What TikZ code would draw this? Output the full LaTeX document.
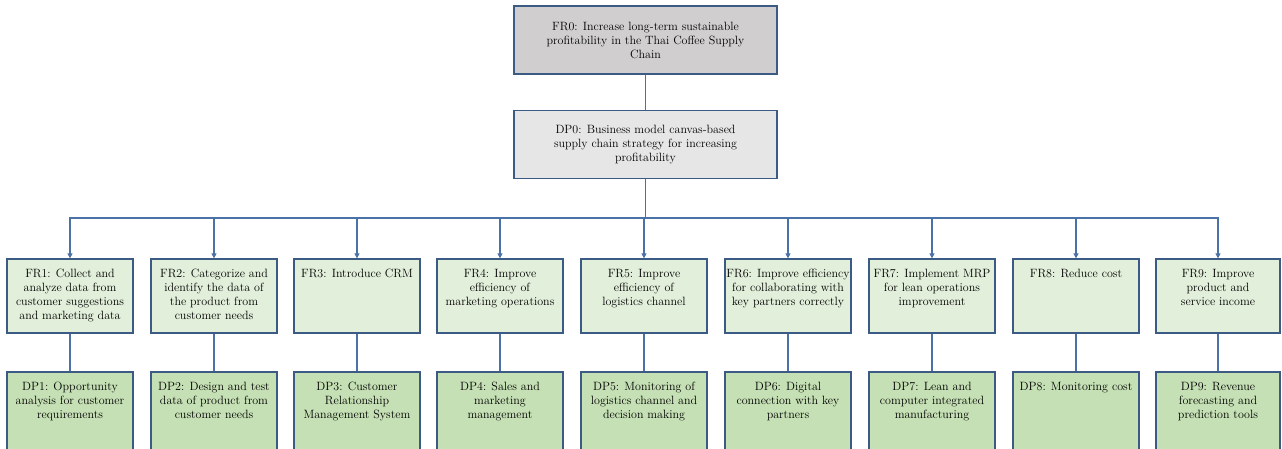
\documentclass[tikz,border=0pt]{standalone}
\usetikzlibrary{arrows.meta}
\definecolor{rootfill}{HTML}{D0CECE}
\definecolor{dpzfill}{HTML}{E7E6E6}
\definecolor{frfill}{HTML}{E2EFDA}
\definecolor{dpfill}{HTML}{C5E0B4}
\definecolor{edge}{HTML}{3B5A84}
\definecolor{wire}{HTML}{4A72A6}
% text set at the top of a fixed-size box
\newcommand{\toptext}[3]{\parbox[c][#2][t]{#1}{\centering\rule{0pt}{18pt}#3}}
\begin{document}
\begin{tikzpicture}[x=1pt,y=-1pt,
  font=\fontsize{12}{14}\selectfont,
  base/.style={draw=edge,line width=1.3pt,inner sep=0pt},
  headbox/.style={base,minimum width=263pt,minimum height=68pt,align=center},
  frbox/.style={base,fill=frfill},
  dpbox/.style={base,fill=dpfill},
  link/.style={draw=wire,line width=1.2pt},
  feed/.style={link,-{Triangle[width=5pt,length=5pt]}}]
\useasboundingbox (0,0) rectangle (1282,448);

% top-level requirement and design parameter
\node[headbox,fill=rootfill] (fr0) at (645.5,40)
  {FR0: Increase long-term sustainable\\profitability in the Thai Coffee Supply\\Chain};
\node[headbox,fill=dpzfill] (dp0) at (645.5,144.5)
  {DP0: Business model canvas-based\\supply chain strategy for increasing\\profitability};
\coordinate (bus) at (0,218);

% functional requirements
\node[frbox] (fr1) at (70,296)   {\toptext{126pt}{74pt}{FR1: Collect and\\analyze data from\\customer suggestions\\and marketing data}};
\node[frbox] (fr2) at (214,296)  {\toptext{126pt}{74pt}{FR2: Categorize and\\identify the data of\\the product from\\customer needs}};
\node[frbox] (fr3) at (357,296)  {\toptext{126pt}{74pt}{FR3: Introduce CRM}};
\node[frbox] (fr4) at (500,296)  {\toptext{126pt}{74pt}{FR4: Improve\\efficiency of\\marketing operations}};
\node[frbox] (fr5) at (644,296)  {\toptext{126pt}{74pt}{FR5: Improve\\efficiency of\\logistics channel}};
\node[frbox] (fr6) at (788,296)  {\toptext{126pt}{74pt}{FR6: Improve efficiency\\for collaborating with\\key partners correctly}};
\node[frbox] (fr7) at (932,296)  {\toptext{126pt}{74pt}{FR7: Implement MRP\\for lean operations\\improvement}};
\node[frbox] (fr8) at (1076,296) {\toptext{126pt}{74pt}{FR8: Reduce cost}};
\node[frbox] (fr9) at (1218,296) {\toptext{124pt}{74pt}{FR9: Improve\\product and\\service income}};

% design parameters (boxes run past the lower edge)
\node[dpbox] (dp1) at (70,411.5)   {\toptext{126pt}{79pt}{DP1: Opportunity\\analysis for customer\\requirements}};
\node[dpbox] (dp2) at (214,411.5)  {\toptext{126pt}{79pt}{DP2: Design and test\\data of product from\\customer needs}};
\node[dpbox] (dp3) at (357,411.5)  {\toptext{126pt}{79pt}{DP3: Customer\\Relationship\\Management System}};
\node[dpbox] (dp4) at (500,411.5)  {\toptext{126pt}{79pt}{DP4: Sales and\\marketing\\management}};
\node[dpbox] (dp5) at (644,411.5)  {\toptext{126pt}{79pt}{DP5: Monitoring of\\logistics channel and\\decision making}};
\node[dpbox] (dp6) at (788,411.5)  {\toptext{126pt}{79pt}{DP6: Digital\\connection with key\\partners}};
\node[dpbox] (dp7) at (932,411.5)  {\toptext{126pt}{79pt}{DP7: Lean and\\computer integrated\\manufacturing}};
\node[dpbox] (dp8) at (1076,411.5) {\toptext{126pt}{79pt}{DP8: Monitoring cost}};
\node[dpbox] (dp9) at (1218,411.5) {\toptext{124pt}{79pt}{DP9: Revenue\\forecasting and\\prediction tools}};

% connectors
\draw[link] (fr0.south) -- (dp0.north);
\foreach \k in {1,...,9}{
  \draw[feed] (dp0.south) -- (dp0.south |- bus) -| (fr\k.north);
  \draw[link] (fr\k.south) -- (dp\k.north);
}
\end{tikzpicture}
\end{document}
